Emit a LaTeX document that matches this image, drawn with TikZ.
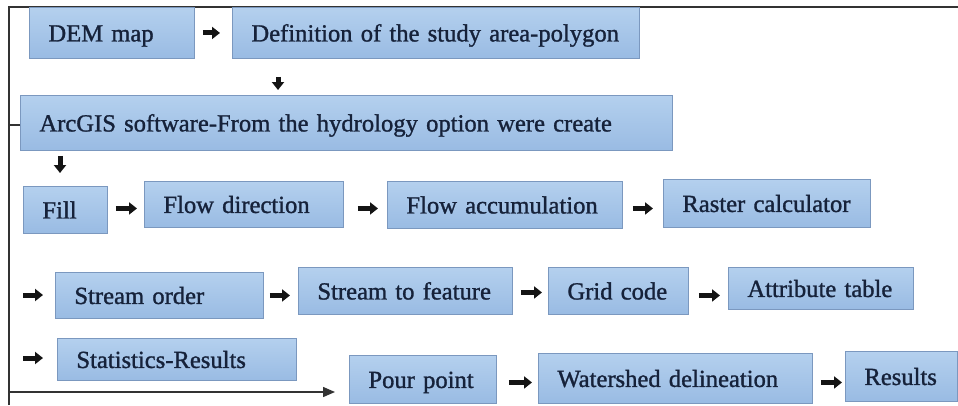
\documentclass[tikz,border=0pt]{standalone}
\usepackage{fontspec}
\setmainfont{Liberation Serif}
\newfontfamily\boxfont{Liberation Serif}[FakeBold=1.2]
\usetikzlibrary{arrows.meta,calc}
\definecolor{boxtop}{HTML}{B4D0EE}
\definecolor{boxbot}{HTML}{99BBE3}
\definecolor{boxline}{HTML}{7B98BF}
\definecolor{txt}{HTML}{16223A}
\definecolor{frame}{HTML}{333333}
\tikzset{
  stepbox/.style={draw=boxline, line width=0.9pt, top color=boxtop, bottom color=boxbot,
    anchor=north west, inner xsep=19pt, inner ysep=0pt, align=left,
    text height=17pt, text depth=0pt, text=txt,
    font=\boxfont\fontsize{24.6}{30}\selectfont},
  blk/.style={line width=5pt, draw=black!92, -{Triangle[length=8pt,width=12pt]}},
  thin/.style={line width=1.4pt, draw=frame},
}
\newcommand{\flowbox}[6]{\node[stepbox, minimum width=#4pt, minimum height=#5pt, text width=#4pt-38pt] (#1) at (#2,#3) {\mbox{#6}};}
\begin{document}
\begin{tikzpicture}[x=1pt,y=-1pt]
\useasboundingbox[fill=white] (0,0) rectangle (958,405);
% frame
\coordinate (ftop) at (9,7);
\coordinate (fbot) at (9,405);
\coordinate (fright) at (958,7);
\draw[thin] (fbot) -- (ftop) -- (fright);
% boxes
\flowbox{dem}{29}{7}{165}{51}{DEM map}
\flowbox{def}{232}{7}{407}{51}{Definition of the study area-polygon}
\flowbox{arc}{20}{95}{652}{55}{ArcGIS software-From the hydrology option were create}
\flowbox{fill}{23}{186}{84}{47}{Fill}
\flowbox{fdir}{144}{181}{199}{46}{Flow direction}
\flowbox{facc}{387}{181}{235}{47}{Flow accumulation}
\flowbox{rast}{663}{179}{207}{48}{Raster calculator}
\flowbox{sord}{55}{272}{208}{46}{Stream order}
\flowbox{stf}{298}{267}{214}{47}{Stream to feature}
\flowbox{grid}{548}{267}{140}{47}{Grid code}
\flowbox{attr}{728}{267}{185}{42}{Attribute table}
\flowbox{stat}{57}{338}{239}{42}{Statistics-Results}
\flowbox{pour}{349}{355}{147}{48}{Pour point}
\flowbox{wat}{538}{353}{274}{50}{Watershed delineation}
\flowbox{res}{845}{351}{112}{50}{Results}
% helper coordinates
\coordinate (c1) at (278,0);
\coordinate (c2) at (60,0);
\coordinate (l3) at (23,295);
\coordinate (l4) at (23,358);
\coordinate (lt) at (9,125);
\coordinate (lb) at (9,392);
% arrows
\draw[blk, shorten <=8pt, shorten >=12pt] (dem.east) -- (def.west);
\draw[blk, shorten <=18pt, shorten >=5pt] (def.south -| c1) -- (arc.north -| c1);
\draw[blk, shorten <=5pt, shorten >=13pt] (arc.south -| c2) -- (fill.north -| c2);
\draw[blk, shorten <=8pt, shorten >=7pt] ([yshift=1.5pt]fill.east) -- ([yshift=1.5pt]fill.east -| fdir.west);
\draw[blk, shorten <=14pt, shorten >=9pt] ([yshift=-4pt]fdir.east) -- ([yshift=-4pt]fdir.east -| facc.west);
\draw[blk, shorten <=10pt, shorten >=10pt] ([yshift=-3.5pt]facc.east) -- ([yshift=-3.5pt]facc.east -| rast.west);
\draw[blk, shorten >=12pt] (l3) -- (l3 -| sord.west);
\draw[blk, shorten <=6pt, shorten >=8pt] (sord.east) -- (sord.east -| stf.west);
\draw[blk, shorten <=8pt, shorten >=6pt] ([yshift=-1.5pt]stf.east) -- ([yshift=-1.5pt]stf.east -| grid.west);
\draw[blk, shorten <=10pt, shorten >=8pt] ([yshift=-4.5pt]grid.east) -- ([yshift=-4.5pt]grid.east -| attr.west);
\draw[blk, shorten >=14pt] (l4) -- (l4 -| stat.west);
\draw[blk, shorten <=12pt, shorten >=6pt] ([yshift=-3pt]pour.east) -- ([yshift=-3pt]pour.east -| wat.west);
\draw[blk, shorten <=8pt, shorten >=3pt] ([yshift=-4pt]wat.east) -- ([yshift=-4pt]wat.east -| res.west);
% ArcGIS to Pour point connector
\draw[thin, -{Triangle[length=12pt,width=10pt]}, shorten >=14pt] (arc.west |- lt) -- (lt) -- (lb) -- (lb -| pour.west);
\end{tikzpicture}
\end{document}
